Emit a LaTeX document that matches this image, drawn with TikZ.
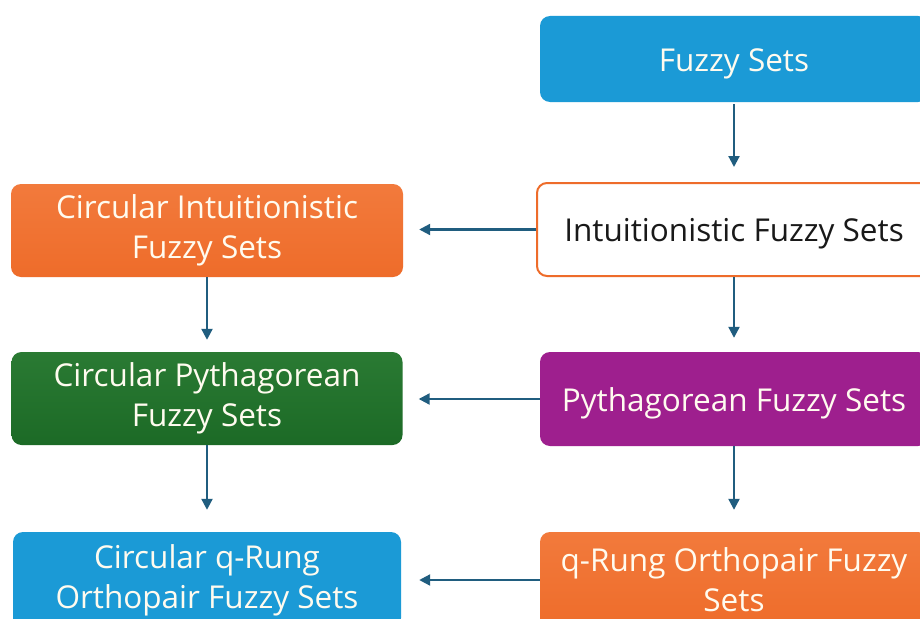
\documentclass[tikz,border=0pt]{standalone}
\usepackage{fontspec}
\setmainfont{Open Sans}
\usetikzlibrary{arrows.meta}
\definecolor{cblue}{HTML}{1B9AD6}
\definecolor{corange}{HTML}{EE6C2A}
\definecolor{corangeL}{HTML}{F27A3C}
\definecolor{cgreen}{HTML}{1C6A26}
\definecolor{cgreenL}{HTML}{2A7A33}
\definecolor{cpurple}{HTML}{9E1F8E}
\definecolor{carrow}{HTML}{205D7F}
\definecolor{ctext}{HTML}{FFFBEF}
\tikzset{
  box/.style={rounded corners=10pt, inner sep=0pt, align=center,
    font=\fontsize{31.5}{40}\selectfont, text=ctext},
  oneline/.style={text height=24pt, text depth=0pt},
  bluebox/.style={box, fill=cblue},
  orangebox/.style={box, top color=corangeL, bottom color=corange},
  greenbox/.style={box, top color=cgreenL, bottom color=cgreen},
  purplebox/.style={box, fill=cpurple},
  whitebox/.style={box, fill=white, draw=corange, line width=2pt, text=black!90},
  conn/.style={draw=carrow, line width=2.2pt, -{Triangle[length=11pt,width=11pt]}}
}
\begin{document}
\begin{tikzpicture}[x=1pt,y=-1pt]
\useasboundingbox (0,0) rectangle (920,618);
\clip (0,0) rectangle (920,618);
\fill[white] (0,0) rectangle (920,618);
\node[bluebox, oneline, minimum width=388pt, minimum height=86pt] (fs) at (734,59) {Fuzzy Sets};
\node[whitebox, oneline, minimum width=394pt, minimum height=93pt] (ifs) at (734,229.5) {Intuitionistic Fuzzy Sets};
\node[purplebox, oneline, minimum width=388pt, minimum height=94pt] (pfs) at (734,399) {Pythagorean Fuzzy Sets};
\node[orangebox, minimum width=388pt, minimum height=96pt] (qfs) at (734,580) {q-Rung Orthopair Fuzzy\\Sets};
\node[orangebox, minimum width=392pt, minimum height=93pt] (cifs) at (207,230.5) {Circular Intuitionistic\\Fuzzy Sets};
\node[greenbox, minimum width=391pt, minimum height=93pt] (cpfs) at (207,398.5) {Circular Pythagorean\\Fuzzy Sets};
\node[bluebox, minimum width=388pt, minimum height=96pt] (cqfs) at (207,580) {Circular q-Rung\\Orthopair Fuzzy Sets};
\draw[conn, shorten <=2pt, shorten >=15pt] (fs.south) -- (ifs.north);
\draw[conn, shorten >=14pt] (ifs.south) -- (pfs.north);
\draw[conn, shorten >=22pt] (pfs.south) -- (qfs.north);
\draw[conn, shorten >=12pt] (cifs.south) -- (cpfs.north);
\draw[conn, shorten >=22pt] (cpfs.south) -- (cqfs.north);
\draw[conn, shorten >=16pt] (ifs.west) -- (ifs.west -| cifs.east);
\draw[conn, shorten >=16pt] (pfs.west) -- (pfs.west -| cpfs.east);
\draw[conn, shorten >=18pt] (qfs.west) -- (qfs.west -| cqfs.east);
\end{tikzpicture}
\end{document}
